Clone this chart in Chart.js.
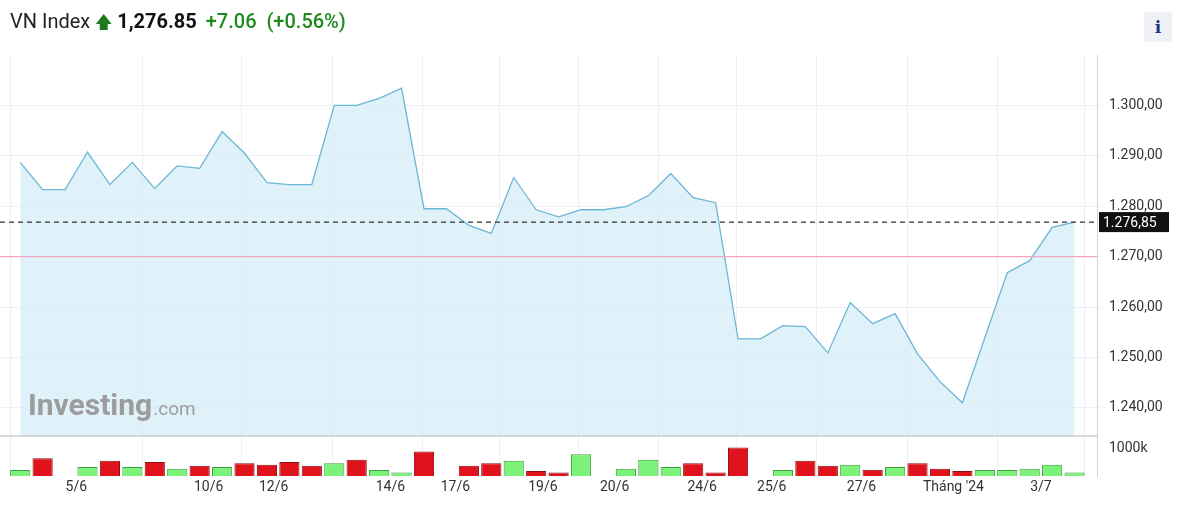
<!DOCTYPE html>
<html>
<head>
<meta charset="utf-8">
<script src="https://cdn.jsdelivr.net/npm/chart.js@4"></script>
<style>
  body { margin: 0; background: #fff; font-family: Roboto, "Noto Sans", sans-serif; }
  #wrap { position: relative; width: 1180px; height: 507px; }
  #head { position: absolute; left: 10px; top: 9px; font-size: 20px; color: #222; white-space: nowrap; }
  #head .px { font-weight: bold; color: #111; }
  #head .chg { color: #1e8a1e; font-weight: 500; margin-left: 4px; }
  #head .arr { color: #1e7a1e; font-size: 17px; }
  #info { position: absolute; left: 1144px; top: 12px; width: 28px; height: 30px; background: #eef1f6;
          color: #1a3a8a; font: bold 17px "DejaVu Serif", serif; text-align: center; line-height: 30px; }
</style>
</head>
<body>
<div id="wrap">
  <div id="head">VN Index <span class="arr">&#129093;</span> <span class="px">1,276.85</span> <span class="chg">+7.06&nbsp; (+0.56%)</span></div>
  <div id="info">i</div>
  <canvas id="c" width="1180" height="507"></canvas>
</div>
<script>
// closing prices, one per session slot
const prices = [1288.7, 1283.3, 1283.3, 1290.7, 1284.3, 1288.7, 1283.5, 1288.0, 1287.5, 1294.8,
  1290.5, 1284.7, 1284.3, 1284.3, 1300.0, 1300.0, 1301.4, 1303.4, 1279.5, 1279.5,
  1276.2, 1274.6, 1285.7, 1279.3, 1277.9, 1279.3, 1279.3, 1279.9, 1282.1, 1286.5,
  1281.7, 1280.7, 1253.7, 1253.7, 1256.3, 1256.1, 1250.9, 1260.9, 1256.7, 1258.7,
  1250.7, 1245.2, 1241.0, 1253.9, 1266.8, 1269.2, 1275.8, 1276.85];
// volume (k), null where no bar is drawn
const volumes = [217, 639, null, 325, 554, 325, 506, 265, 373, 325,
  458, 410, 506, 373, 458, 590, 217, 133, 880, null,
  373, 458, 554, 181, 133, 783, null, 265, 590, 325,
  458, 133, 1024, null, 217, 554, 373, 410, 229, 325,
  458, 265, 181, 217, 217, 265, 410, 133];
const volDir = ['u','d','','u','d','u','d','u','d','u',
  'd','d','d','d','u','d','u','u','d','',
  'd','d','u','d','d','u','','u','u','u',
  'd','d','d','','u','d','d','u','d','u',
  'd','d','d','u','u','u','u','u'];
const tickLabels = ['5/6','10/6','12/6','14/6','17/6','19/6','20/6','24/6','25/6','27/6',"Tháng '24",'3/7'];
const tickPos = [2.5, 8.4, 11.3, 16.5, 19.4, 23.3, 26.5, 30.4, 33.5, 37.5, 41.6, 45.5];
const priceTicks = [1240, 1250, 1260, 1270, 1280, 1290, 1300];
const lastPrice = 1276.85;
const refLine = 1270;

const fmt = v => v.toFixed(2).replace('.', ',').replace(/\B(?=(\d{3})+(?!\d))/g, '.');

const overlay = {
  id: 'overlay',
  afterDatasetsDraw(ch) {
    const { ctx, chartArea: a, scales: { y } } = ch;
    ctx.save();
    ctx.fillStyle = '#9c9c9c';
    ctx.font = 'bold 30px Roboto, sans-serif';
    ctx.fillText('Investing', 28, 415);
    const w = ctx.measureText('Investing').width;
    ctx.font = '19px Roboto, sans-serif';
    ctx.fillText('.com', 28 + w + 1, 415);
    const yp = y.getPixelForValue(refLine);
    ctx.strokeStyle = '#f3a6bf'; ctx.lineWidth = 1.3;
    ctx.beginPath(); ctx.moveTo(a.left, yp); ctx.lineTo(a.right, yp); ctx.stroke();
    const yl = y.getPixelForValue(lastPrice);
    ctx.strokeStyle = '#333'; ctx.setLineDash([5, 4]);
    ctx.beginPath(); ctx.moveTo(a.left, yl); ctx.lineTo(a.right, yl); ctx.stroke();
    ctx.setLineDash([]);
    ctx.fillStyle = '#111';
    ctx.fillRect(a.right + 2, yl - 10, 70, 20);
    ctx.fillStyle = '#fff'; ctx.font = '14px Roboto, sans-serif'; ctx.textBaseline = 'middle';
    ctx.fillText(fmt(lastPrice), a.right + 6, yl + 1);
    // pane separator
    ctx.strokeStyle = '#c8ccd2'; ctx.lineWidth = 1.5;
    ctx.beginPath(); ctx.moveTo(a.left, y.bottom); ctx.lineTo(a.right, y.bottom); ctx.stroke();
    ctx.restore();
  }
};

new Chart(document.getElementById('c'), {
  data: {
    datasets: [{
      type: 'line',
      data: prices.map((v, i) => ({ x: i, y: v })),
      yAxisID: 'y',
      borderColor: '#6cb6d6', borderWidth: 1.3,
      backgroundColor: 'rgba(214,237,247,0.75)',
      fill: 'start', pointRadius: 0, tension: 0
    }, {
      type: 'bar',
      data: volumes.map((v, i) => ({ x: i, y: v })),
      yAxisID: 'yv',
      backgroundColor: volDir.map(d => d === 'u' ? '#7cf27a' : '#e0121c'),
      borderColor: volDir.map(d => d === 'u' ? '#3f9e3f' : '#8c0d12'),
      borderWidth: 1, barPercentage: 0.9, categoryPercentage: 1
    }]
  },
  options: {
    responsive: false, animation: false,
    layout: { padding: { top: 55, left: 0, right: 8, bottom: 8 } },
    plugins: { legend: { display: false }, tooltip: { enabled: false } },
    scales: {
      x: {
        type: 'linear', min: -0.9, max: 48.0, offset: false,
        afterBuildTicks: s => { s.ticks = tickPos.map(v => ({ value: v })); },
        ticks: {
          color: '#333', font: { size: 14, family: 'Roboto' }, maxRotation: 0, autoSkip: false,
          callback: (v, i) => tickLabels[i]
        },
        grid: { color: '#eef0f3', drawTicks: false }, border: { display: false }
      },
      y: {
        position: 'right', stack: 'p', stackWeight: 9.5, min: 1234.4, max: 1310,
        afterBuildTicks: s => { s.ticks = priceTicks.map(v => ({ value: v })); },
        afterFit: s => { s.width = 75; },
        ticks: { color: '#333', font: { size: 14, family: 'Roboto' }, padding: 8, callback: v => fmt(v) },
        grid: { color: '#eef0f3', tickLength: 4 },
        border: { color: '#d0d4da' }
      },
      yv: {
        position: 'right', stack: 'p', stackWeight: 1, min: 0, max: 1430, offset: false,
        afterBuildTicks: s => { s.ticks = [{ value: 1000 }]; },
        afterFit: s => { s.width = 75; },
        ticks: { color: '#333', font: { size: 14, family: 'Roboto' }, padding: 8, callback: v => v + 'k' },
        grid: { display: false, tickLength: 4 },
        border: { color: '#d0d4da' }
      }
    }
  },
  plugins: [overlay]
});
</script>
</body>
</html>
